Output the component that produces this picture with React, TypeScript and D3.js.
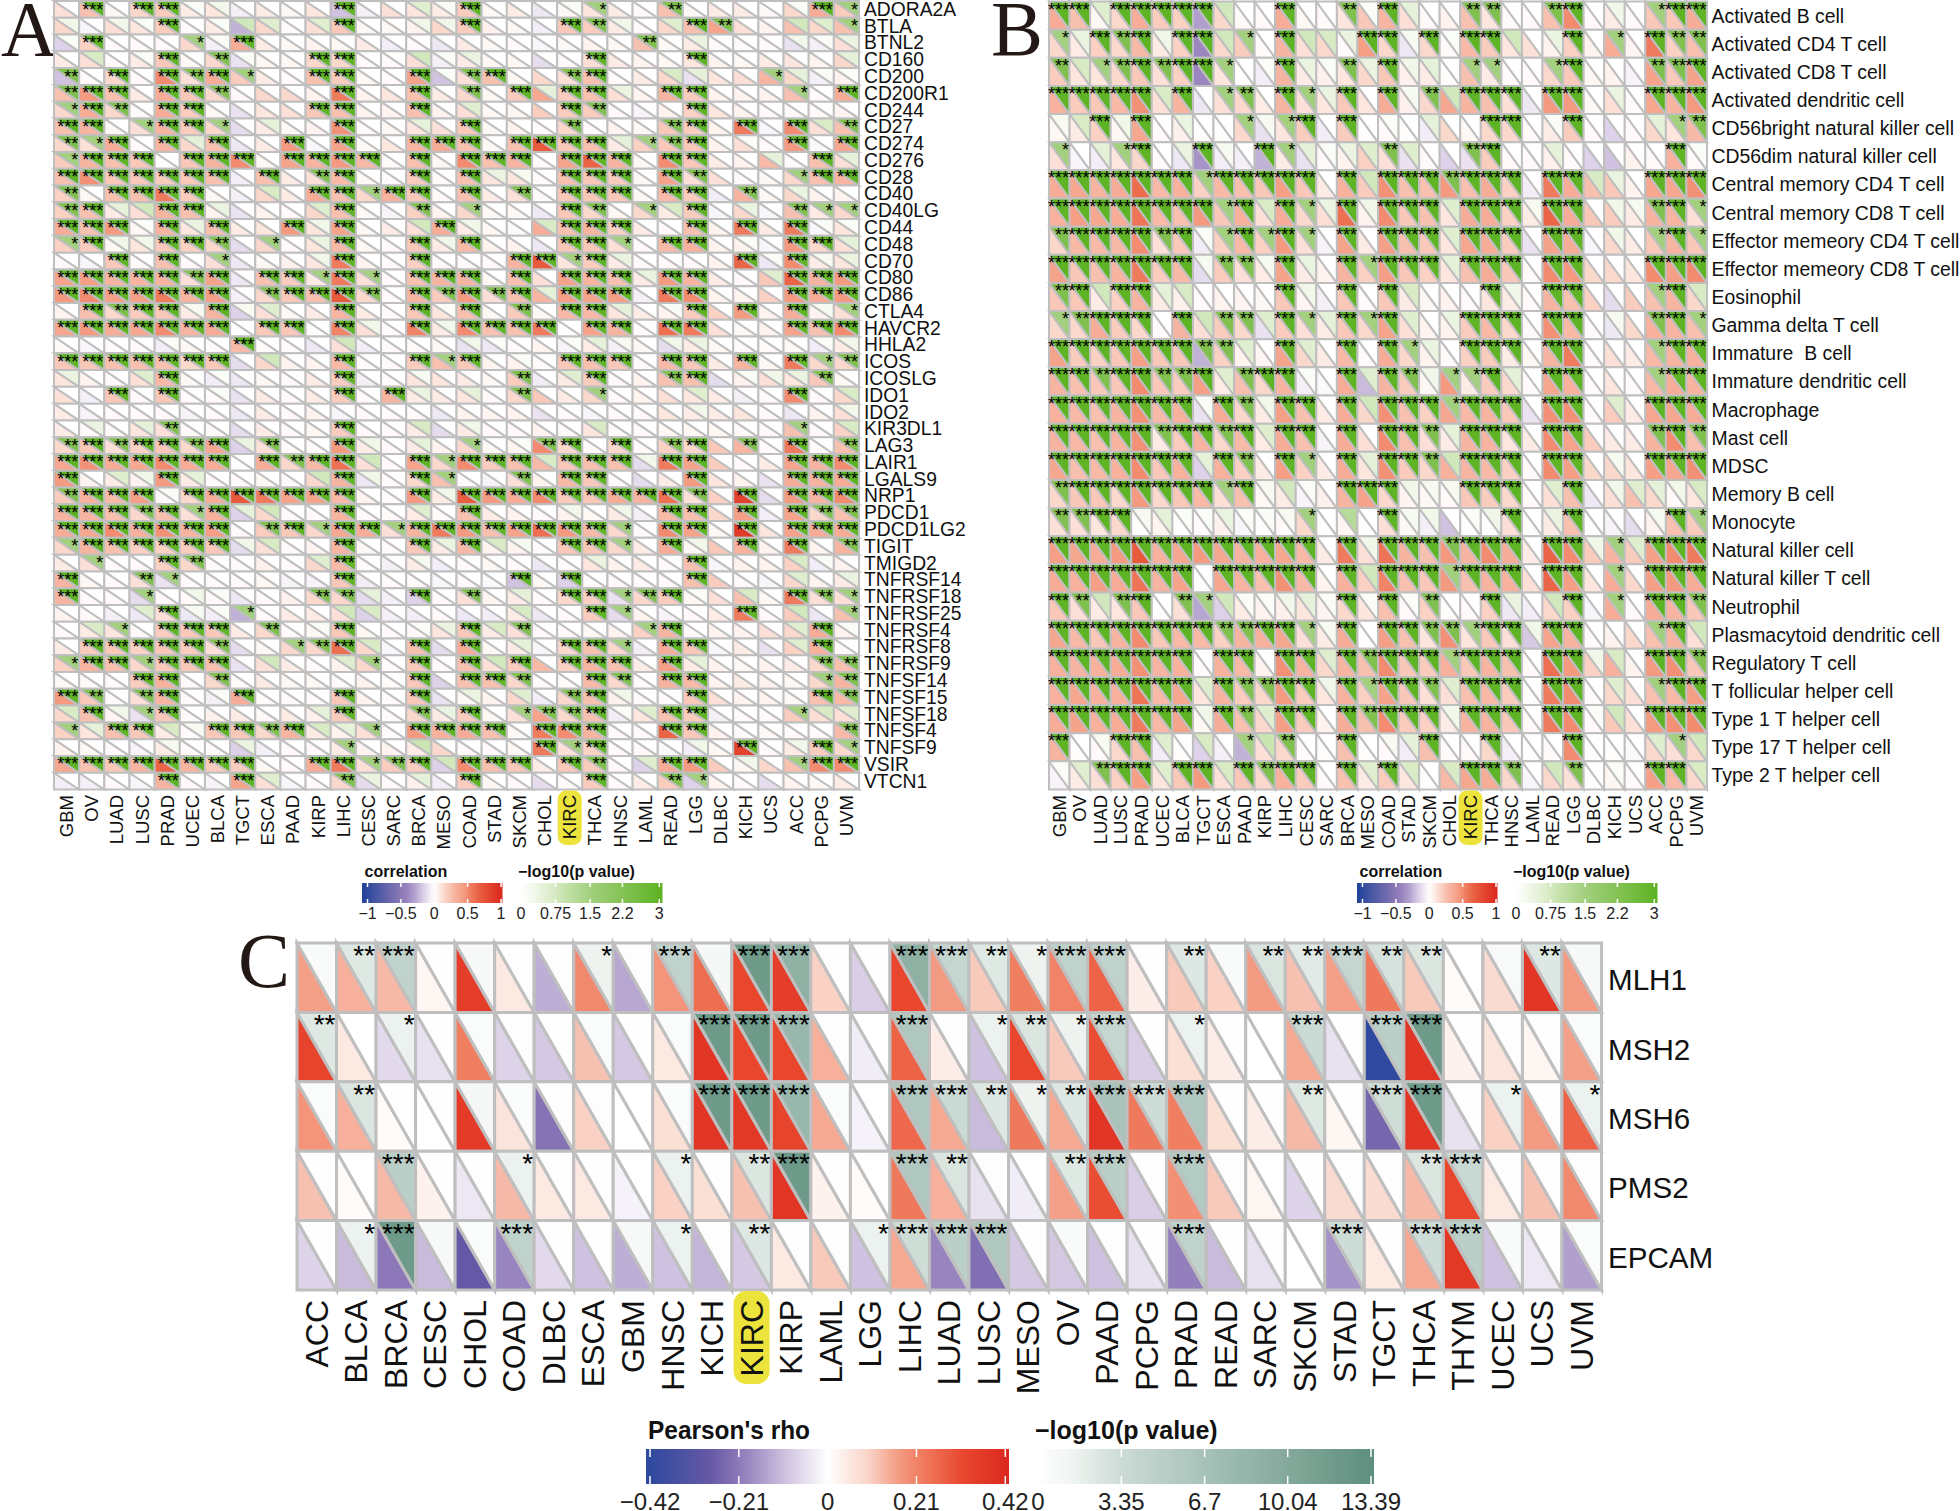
import React from "react";
import * as d3 from "d3";

const cancersAB = ["GBM","OV","LUAD","LUSC","PRAD","UCEC","BLCA","TGCT","ESCA","PAAD","KIRP","LIHC","CESC","SARC","BRCA","MESO","COAD","STAD","SKCM","CHOL","KIRC","THCA","HNSC","LAML","READ","LGG","DLBC","KICH","UCS","ACC","PCPG","UVM"];
const cancersC = ["ACC","BLCA","BRCA","CESC","CHOL","COAD","DLBC","ESCA","GBM","HNSC","KICH","KIRC","KIRP","LAML","LGG","LIHC","LUAD","LUSC","MESO","OV","PAAD","PCPG","PRAD","READ","SARC","SKCM","STAD","TGCT","THCA","THYM","UCEC","UCS","UVM"];
const genesA = ["ADORA2A","BTLA","BTNL2","CD160","CD200","CD200R1","CD244","CD27","CD274","CD276","CD28","CD40","CD40LG","CD44","CD48","CD70","CD80","CD86","CTLA4","HAVCR2","HHLA2","ICOS","ICOSLG","IDO1","IDO2","KIR3DL1","LAG3","LAIR1","LGALS9","NRP1","PDCD1","PDCD1LG2","TIGIT","TMIGD2","TNFRSF14","TNFRSF18","TNFRSF25","TNFRSF4","TNFRSF8","TNFRSF9","TNFSF14","TNFSF15","TNFSF18","TNFSF4","TNFSF9","VSIR","VTCN1"];
const cellsB = ["Activated B cell","Activated CD4 T cell","Activated CD8 T cell","Activated dendritic cell","CD56bright natural killer cell","CD56dim natural killer cell","Central memory CD4 T cell","Central memory CD8 T cell","Effector memeory CD4 T cell","Effector memeory CD8 T cell","Eosinophil","Gamma delta T cell","Immature  B cell","Immature dendritic cell","Macrophage","Mast cell","MDSC","Memory B cell","Monocyte","Natural killer cell","Natural killer T cell","Neutrophil","Plasmacytoid dendritic cell","Regulatory T cell","T follicular helper cell","Type 1 T helper cell","Type 17 T helper cell","Type 2 T helper cell"];
const genesC = ["MLH1","MSH2","MSH6","PMS2","EPCAM"];

// correlation x100, per row
const corrA = [
[12,25,3,15,20,8,10,-5,8,3,10,-20,-5,12,10,8,20,3,8,-8,3,10,8,2,25,3,8,8,2,15,35,20],
[15,-3,12,10,20,2,8,-25,15,2,12,22,3,3,5,15,20,6,3,-6,22,20,8,2,15,25,40,12,5,25,15,25],
[-15,18,2,2,2,15,-5,35,8,3,5,3,8,-6,2,-8,8,3,2,-3,3,5,3,25,3,8,2,2,2,-10,-5,12],
[8,12,2,8,22,3,15,-10,3,3,15,15,2,2,12,-5,8,3,3,-12,2,12,8,5,3,10,5,3,8,10,5,15],
[-20,2,15,2,50,12,35,20,8,2,25,20,3,2,40,-20,12,25,3,15,12,25,2,8,15,-10,10,12,30,15,-5,5],
[25,45,25,8,35,22,15,2,15,15,5,55,5,10,25,8,15,3,20,38,20,25,12,5,30,20,5,5,5,25,2,35],
[15,35,15,2,35,20,3,-10,10,12,22,25,5,5,25,5,12,3,3,20,20,20,2,-4,5,18,10,5,2,2,2,4],
[25,30,3,12,30,20,15,-12,8,3,5,48,2,3,10,12,22,3,5,2,15,2,5,3,22,20,5,55,-3,50,12,25],
[15,12,35,2,30,15,25,-8,8,45,-3,40,3,10,30,35,25,3,25,70,22,25,8,18,22,22,5,12,2,45,-2,38],
[20,30,25,22,1,22,30,50,3,40,30,45,28,2,25,3,50,25,30,2,40,65,30,3,50,22,8,5,28,2,25,12],
[25,48,22,22,20,22,25,-6,25,8,12,28,3,2,20,2,25,10,10,2,25,22,20,3,40,12,12,2,3,15,25,30],
[18,3,25,25,55,20,3,-5,15,8,35,25,15,32,22,2,25,8,12,2,22,22,22,3,28,20,-6,30,3,15,5,5],
[18,25,8,12,30,25,5,-10,5,2,15,25,3,-4,18,5,15,3,3,-8,22,15,3,15,8,20,-3,15,-3,25,8,15],
[35,25,45,3,30,10,25,8,10,45,10,40,3,8,12,35,8,3,-2,35,25,30,18,8,2,25,5,55,8,55,-3,10],
[18,20,3,10,22,18,15,-12,15,2,10,28,3,2,22,8,28,5,5,-8,22,22,12,2,28,32,5,5,-3,45,15,12],
[2,-3,22,2,25,2,12,-8,3,6,10,55,5,2,18,2,2,2,30,70,10,20,8,2,2,2,5,65,-8,50,8,10],
[40,42,30,30,30,12,40,-8,25,20,8,55,12,2,25,30,30,3,25,12,40,30,25,8,45,30,8,2,22,65,30,45],
[45,50,42,42,55,30,42,-5,15,22,25,70,15,2,30,20,45,12,25,30,42,40,42,-5,55,50,5,5,18,45,35,45],
[5,25,15,20,22,8,30,-15,12,3,8,30,8,2,22,10,25,3,20,3,28,28,10,8,5,20,18,45,5,35,5,12],
[38,45,35,38,50,30,35,1,22,22,1,52,12,2,52,8,50,25,25,55,1,40,30,2,60,55,12,3,5,40,25,50],
[2,-3,2,2,-6,3,2,28,2,2,-8,12,-6,2,2,3,-10,-8,2,5,-4,8,-5,3,-12,8,3,2,2,3,-6,8],
[22,22,25,25,25,15,22,-12,15,5,5,28,2,2,20,25,22,5,5,2,22,25,22,2,28,22,8,30,3,55,15,15],
[10,5,2,12,28,3,-6,-8,3,2,8,20,-5,2,10,10,8,3,20,-6,8,20,2,5,25,25,-12,5,12,10,22,3],
[12,-5,22,2,22,2,2,-10,8,2,8,20,2,30,8,8,10,2,15,22,8,15,2,5,12,10,8,-5,2,50,2,15],
[8,-4,2,2,2,-4,2,-8,8,2,5,-3,2,2,2,-8,5,4,5,-10,2,-3,2,2,10,8,8,10,2,-8,5,12],
[8,2,2,10,12,2,2,-12,8,2,3,20,2,2,8,-12,8,2,2,5,2,10,2,2,3,3,3,2,2,25,2,18],
[15,22,12,18,22,15,38,-15,12,2,2,45,8,2,8,5,15,3,4,50,15,2,15,2,18,15,22,30,2,55,2,25],
[38,48,35,38,50,35,35,1,35,15,28,60,12,2,40,15,50,20,25,28,22,25,25,-12,55,40,20,2,8,40,30,50],
[45,4,8,5,45,8,2,2,3,2,15,30,-8,2,15,25,2,-4,12,5,28,22,2,-12,8,45,10,5,-10,35,30,35],
[20,32,28,42,2,15,35,70,55,40,40,28,5,2,45,8,68,45,35,50,20,22,35,30,60,12,18,85,-12,45,30,50],
[30,30,25,15,25,12,32,-15,15,2,2,30,2,2,8,2,25,8,5,2,5,3,8,-5,28,25,15,42,-6,40,15,25],
[35,38,50,32,48,30,42,2,20,22,15,38,35,12,30,55,45,25,40,60,45,28,15,2,50,40,3,90,10,40,35,35],
[15,30,25,18,18,20,22,-12,12,2,5,30,3,2,22,8,28,5,5,2,22,22,15,8,35,3,22,32,5,55,5,30],
[8,12,2,2,18,15,2,2,6,2,15,28,2,-5,8,-6,2,3,2,-8,2,10,5,8,2,25,-3,5,5,18,-6,5],
[30,3,2,12,-10,2,2,2,3,-4,-4,22,-6,2,2,-3,2,-2,-20,3,-15,2,2,2,2,25,20,2,-3,15,5,8],
[30,2,2,-12,2,2,2,-8,2,6,15,15,-12,-5,-15,2,12,4,8,2,15,18,-10,15,20,3,12,25,3,55,12,12],
[5,2,-5,-8,12,-8,-6,-25,2,8,8,12,-15,-5,-6,2,-8,-6,8,-8,2,20,-12,5,-4,2,8,55,2,20,-8,25],
[2,8,10,2,20,22,22,8,15,2,3,22,3,2,2,10,22,8,12,2,2,3,5,18,30,2,5,5,12,15,35,5],
[8,20,22,18,22,20,12,-12,3,15,15,60,15,-3,25,-12,35,3,8,-3,15,25,15,-6,35,22,-3,8,-10,18,32,2],
[18,30,25,15,22,22,25,-10,12,8,2,5,15,2,22,2,25,12,20,28,18,30,25,8,42,8,5,3,5,8,15,25],
[3,2,2,20,32,2,15,2,8,3,3,2,5,2,22,-15,25,25,15,2,2,28,15,2,32,28,5,8,5,3,15,30],
[45,22,2,12,30,2,-5,35,2,2,2,22,5,2,22,-10,3,5,15,-6,15,25,6,2,2,22,12,5,5,3,25,28],
[15,25,4,-10,22,2,6,8,2,8,6,20,2,2,15,8,20,3,12,40,15,25,-6,10,25,20,-5,2,2,20,12,12],
[18,10,25,22,8,2,22,22,15,30,8,5,12,2,45,32,35,25,3,55,50,30,2,2,65,22,5,2,3,2,2,28],
[5,3,2,-4,8,2,2,-15,-5,2,2,8,5,5,8,15,2,2,3,55,12,18,2,2,-2,-6,3,85,2,8,20,15],
[38,25,22,30,65,30,20,20,3,2,35,55,12,20,20,-15,50,25,22,8,22,20,2,-15,35,45,20,3,15,25,50,50],
[-6,-5,2,-3,30,2,-4,40,12,-3,2,15,-12,2,6,-6,20,3,2,-12,2,20,2,8,20,-15,5,2,-12,5,3,8],
];
// -log10(p) x10, per row
const pvalA = [
[0,30,0,30,30,1,3,0,0,0,0,30,0,0,6,1,30,0,0,0,1,15,0,0,23,0,0,0,0,1,30,15],
[3,0,3,1,30,0,1,8,6,0,6,30,0,0,3,3,30,0,0,0,30,23,3,0,6,30,23,0,0,8,6,15],
[1,30,0,0,0,15,1,30,0,0,0,0,0,0,0,0,0,0,0,0,0,0,0,23,0,4,0,0,0,3,1,4],
[0,7,0,1,30,0,23,1,0,0,30,30,0,0,8,1,4,0,0,0,0,30,0,0,0,30,0,0,0,0,0,5],
[23,0,30,0,30,23,30,15,0,0,30,30,0,0,30,1,23,30,0,0,23,30,0,0,7,5,0,0,15,5,1,1],
[23,30,30,0,30,30,23,0,0,0,0,30,0,0,30,0,23,0,30,5,30,30,4,0,30,30,0,0,0,15,0,30],
[15,30,23,0,30,30,0,0,0,0,30,30,0,0,30,0,6,0,0,0,30,23,0,0,0,30,0,0,0,0,0,0],
[30,30,0,15,30,30,15,0,5,0,0,30,0,0,5,0,30,0,0,0,23,0,0,0,23,30,0,30,0,30,7,23],
[23,15,30,0,30,5,30,0,0,30,0,30,0,0,30,30,30,0,30,30,30,30,5,15,23,30,0,1,0,30,0,30],
[15,30,30,30,0,30,30,30,0,30,30,30,30,0,30,0,30,30,30,0,30,30,30,0,30,30,0,0,5,0,30,5],
[30,30,30,30,30,30,30,0,30,0,23,30,0,0,30,0,30,4,2,0,30,30,30,0,30,23,0,0,0,15,30,30],
[23,0,30,30,30,30,0,0,7,0,30,30,15,30,30,0,30,0,23,0,30,30,30,0,30,30,0,23,0,4,0,0],
[23,30,5,8,30,30,4,0,0,0,6,30,0,0,23,0,15,0,0,0,30,23,0,15,7,30,0,4,0,23,15,15],
[30,30,30,1,30,4,30,0,0,30,3,30,0,0,8,30,3,0,0,7,30,30,30,0,0,30,0,30,0,30,1,1],
[15,30,3,3,30,30,23,0,15,0,4,30,0,0,30,3,30,0,0,0,30,30,15,0,30,30,0,1,0,30,30,5],
[0,0,30,0,30,0,15,0,0,0,3,30,0,0,30,0,0,0,30,30,15,30,4,0,0,0,0,30,1,30,2,4],
[30,30,30,30,30,23,30,0,30,30,15,30,15,0,30,30,30,0,30,0,30,30,30,4,30,30,0,0,6,30,30,30],
[30,30,30,30,30,30,30,0,23,30,30,30,23,0,30,23,30,23,30,5,30,30,30,0,30,30,0,0,0,30,30,30],
[0,30,23,30,30,2,30,2,6,0,0,30,0,0,30,1,30,0,23,0,30,30,5,0,1,30,0,30,0,30,2,15],
[30,30,30,30,30,30,30,0,30,30,0,30,3,0,30,3,30,30,30,30,0,30,30,0,30,30,0,0,0,30,30,30],
[0,0,0,0,1,0,0,30,0,0,0,8,0,0,0,0,3,1,0,0,1,5,2,0,3,4,0,0,0,0,1,3],
[30,30,30,30,30,30,30,0,8,0,0,30,0,0,30,15,30,0,1,0,30,30,30,0,30,30,0,30,0,30,15,23],
[4,0,0,6,30,0,1,0,0,0,0,30,0,0,2,0,0,0,23,0,6,30,0,0,23,30,0,1,3,4,23,0],
[0,0,30,0,30,0,1,0,0,0,0,30,0,30,4,0,5,0,23,0,0,15,0,0,0,6,0,0,0,30,0,7],
[0,0,0,0,0,0,0,0,0,0,0,0,0,0,0,0,0,0,0,0,0,0,0,0,0,3,0,0,0,0,0,3],
[0,4,0,5,23,0,0,0,0,0,0,30,0,0,7,0,3,0,0,0,0,7,0,0,0,0,0,0,0,15,0,7],
[23,30,23,30,30,23,30,4,23,0,0,30,3,0,5,0,15,0,1,23,30,0,30,0,23,30,0,23,0,30,0,23],
[30,30,30,30,30,30,30,0,30,23,30,30,8,0,30,15,30,30,30,7,30,30,30,3,30,30,0,0,0,30,30,30],
[30,0,6,3,30,5,0,0,0,0,8,30,3,0,30,15,0,0,23,0,30,30,0,0,0,30,0,0,0,30,30,30],
[23,30,30,30,1,30,30,30,30,30,30,30,0,0,30,3,30,30,30,30,30,30,30,30,30,23,0,30,0,30,30,30],
[30,30,30,23,30,15,30,5,8,0,0,30,0,0,6,0,30,0,0,0,3,0,3,0,30,30,0,30,0,30,23,23],
[30,30,30,30,30,30,30,0,23,30,15,30,30,15,30,30,30,30,30,30,30,30,15,0,30,30,0,30,0,30,30,30],
[15,30,30,30,30,30,30,3,7,0,0,30,0,0,30,4,30,7,2,0,30,30,15,0,30,3,0,30,0,30,0,23],
[0,15,0,0,30,23,0,0,0,0,6,30,0,0,2,0,0,0,0,0,0,4,0,0,0,30,0,0,0,7,1,0],
[30,0,0,23,15,0,0,0,0,0,0,30,0,0,0,0,0,0,30,0,30,0,0,0,0,30,0,0,0,6,0,4],
[30,0,0,15,0,3,1,0,0,0,23,23,5,0,30,0,23,0,5,0,30,30,15,23,30,1,0,7,0,30,23,15],
[0,0,0,6,30,2,1,15,0,0,0,8,7,0,0,0,0,0,7,0,0,30,15,0,0,0,0,30,0,8,0,15],
[0,7,15,0,30,30,30,0,23,0,1,30,0,0,1,4,30,7,23,0,0,0,0,15,30,0,0,0,0,6,30,1],
[0,30,30,30,30,30,23,0,0,15,23,30,7,0,30,0,30,0,5,0,30,30,15,0,30,30,0,0,0,6,30,0],
[15,30,30,15,30,30,30,0,8,0,0,6,15,0,30,0,30,8,30,0,30,30,30,0,30,5,0,0,0,0,23,23],
[0,0,0,30,30,0,23,0,0,0,0,0,0,0,30,0,30,30,23,0,0,30,23,0,30,30,0,0,0,0,15,23],
[30,23,0,23,30,0,1,30,0,0,0,30,0,0,30,0,4,0,6,0,23,30,3,0,0,30,0,0,0,0,30,23],
[7,30,3,15,30,0,0,0,0,0,5,30,0,0,23,4,30,0,15,23,23,30,1,6,30,30,0,0,0,15,7,6],
[15,5,30,30,7,2,30,30,23,30,7,5,15,0,30,30,30,30,0,30,30,30,0,0,30,30,0,0,0,0,0,23],
[0,0,0,0,2,0,0,4,0,0,0,15,0,0,9,0,0,0,0,30,15,30,0,0,0,3,0,30,0,3,30,15],
[30,30,30,30,30,30,30,30,0,0,30,30,15,23,30,8,30,30,30,0,30,23,0,6,30,30,0,3,0,15,30,30],
[0,0,0,0,30,0,0,30,6,0,0,23,4,0,5,0,30,0,0,0,0,30,0,0,23,15,0,0,0,0,0,0],
];
const corrB = [
[35,25,3,15,35,20,18,-30,15,2,2,35,3,2,10,22,30,12,2,5,25,10,2,2,25,50,2,8,2,22,22,35],
[15,8,18,15,28,8,18,-40,15,20,2,30,12,15,2,42,15,-8,15,2,28,20,10,12,5,18,5,35,4,55,18,25],
[20,10,10,15,22,12,18,-40,10,1,-6,30,8,6,10,15,22,6,8,1,25,8,2,2,15,22,3,5,-4,40,22,40],
[32,20,22,28,48,12,30,-8,12,15,8,30,12,10,22,10,35,6,15,38,30,25,12,-8,45,45,3,12,2,38,30,45],
[3,8,18,3,38,2,6,1,1,15,-10,10,20,-6,20,1,2,1,-6,15,3,15,15,2,8,20,2,-15,2,15,10,28],
[12,-3,-6,10,15,2,-8,-35,-6,-5,-25,8,-10,2,5,18,12,-10,2,-15,-10,20,2,2,6,2,-15,-20,5,2,32,2],
[35,38,30,35,62,28,32,18,28,25,22,42,22,8,32,20,48,25,25,45,25,35,18,-6,55,35,25,22,5,38,38,48],
[32,42,38,35,58,28,25,45,22,32,12,35,15,12,60,5,50,22,25,10,35,35,18,8,65,35,22,20,8,30,30,12],
[15,28,28,28,50,12,22,-6,18,28,18,45,12,-4,40,8,42,25,22,10,38,35,20,-10,40,35,-3,15,8,22,30,22],
[40,22,25,30,55,20,28,-12,20,12,8,40,8,5,30,18,42,22,18,10,25,35,22,2,50,45,15,15,10,50,42,50],
[22,22,8,18,30,8,6,2,5,4,3,22,4,-5,22,2,22,8,3,5,2,10,8,2,30,25,18,-12,20,25,30,15],
[15,15,35,20,15,2,30,12,20,15,-10,20,12,8,22,15,40,12,5,5,20,28,15,2,48,28,2,-8,15,32,30,25],
[40,20,18,22,42,22,22,-25,18,5,4,40,15,8,28,2,35,15,5,2,18,20,8,3,30,55,2,12,8,28,30,32],
[30,25,22,22,50,22,20,42,8,25,15,30,-5,-2,35,-22,30,20,3,45,8,20,15,2,38,32,2,10,2,28,35,30],
[32,28,25,30,48,28,32,-10,35,15,8,42,25,8,35,15,48,25,18,38,28,30,22,-10,48,48,2,20,8,38,38,35],
[30,28,25,30,48,8,20,30,15,28,8,35,25,-4,35,12,50,25,12,8,30,30,10,8,50,40,20,8,8,30,50,25],
[38,25,28,32,50,22,32,-15,32,18,8,42,18,8,35,10,48,20,15,32,30,28,18,2,50,42,15,15,10,42,38,48],
[15,22,22,15,45,15,22,28,12,25,3,8,-4,6,30,40,15,4,3,2,22,20,15,2,12,25,-8,12,25,15,2,10],
[12,12,10,15,1,5,1,2,6,-3,1,2,15,1,4,1,12,3,-5,-20,1,1,12,1,8,25,1,-4,-12,5,25,20],
[42,38,35,45,70,32,38,45,38,30,32,38,28,8,55,12,58,30,25,45,30,50,35,8,65,50,20,30,20,42,50,55],
[35,32,42,35,58,30,40,1,38,30,25,48,28,5,32,18,52,25,22,45,25,30,32,12,65,42,10,35,15,42,45,35],
[22,12,8,10,22,1,12,-28,-15,8,5,6,10,4,15,10,25,2,18,1,2,18,-8,-6,15,18,-3,35,2,35,30,22],
[38,28,22,30,50,22,28,28,18,30,32,38,12,8,35,1,42,25,10,48,10,22,12,-18,40,30,2,5,15,25,30,12],
[32,30,32,35,48,30,32,2,32,28,5,48,30,15,30,25,50,22,20,32,22,30,25,2,60,45,18,32,5,45,48,22],
[32,38,32,32,58,28,38,10,30,20,15,45,20,10,32,18,40,22,12,12,25,28,20,1,55,50,2,15,12,25,28,42],
[35,40,32,35,55,28,40,3,35,25,15,42,20,5,35,25,50,20,18,8,30,30,22,2,55,50,2,22,12,45,48,50],
[30,1,2,15,25,-6,1,-15,-5,-25,12,15,2,1,25,1,2,-6,25,2,2,15,-5,1,2,50,1,1,-2,15,12,15],
[-4,8,12,18,42,10,22,45,12,22,15,32,20,2,25,8,20,10,1,28,38,35,15,-3,15,12,1,3,2,42,28,15],
];
const pvalB = [
[30,30,6,30,30,30,30,30,8,0,0,30,0,0,23,1,30,5,0,0,23,23,0,0,23,30,0,3,0,15,30,30],
[15,4,30,23,30,3,30,30,8,15,0,30,8,7,4,30,30,2,30,1,30,30,8,0,4,30,0,15,0,30,23,23],
[23,7,15,23,30,23,30,30,15,0,1,30,4,1,23,4,30,3,5,0,15,15,0,0,15,30,0,0,0,23,23,30],
[30,30,30,30,30,7,30,0,15,23,0,30,15,4,30,0,30,2,23,8,30,30,30,0,30,30,0,4,0,30,30,30],
[2,7,30,3,30,0,4,0,0,15,2,15,30,0,30,0,1,0,5,0,0,30,30,0,1,30,0,0,0,5,15,23],
[15,0,5,15,30,0,4,30,2,0,30,15,5,1,4,6,23,6,0,0,23,30,0,0,5,0,0,0,0,0,30,1],
[30,30,30,30,30,30,30,15,30,30,30,30,30,0,30,8,30,30,30,23,30,30,30,0,30,30,7,4,0,30,30,30],
[30,30,30,30,30,30,30,30,15,30,7,30,15,4,30,3,30,30,30,6,30,30,30,2,30,30,0,3,2,23,30,15],
[23,30,30,30,30,23,30,1,15,30,15,30,15,0,30,0,30,30,30,6,30,30,30,0,30,30,0,3,0,15,30,15],
[30,30,30,30,30,30,30,2,23,23,2,30,4,0,30,15,30,30,30,5,30,30,30,0,30,30,0,0,0,30,30,30],
[23,30,8,30,30,5,7,0,0,0,0,30,3,0,30,0,30,7,0,0,0,30,3,0,30,30,0,0,0,15,30,7],
[15,23,30,30,30,0,30,8,23,23,6,30,15,5,30,15,30,6,0,4,30,30,30,0,30,30,0,2,0,23,30,15],
[30,30,30,30,30,30,30,23,23,6,0,30,6,0,30,0,30,15,4,0,30,30,30,0,30,30,0,0,0,15,30,30],
[30,30,23,30,30,23,23,30,6,23,30,30,1,0,30,6,30,23,3,15,15,30,5,0,30,30,0,0,0,15,30,30],
[30,30,30,30,30,30,30,1,30,23,3,30,30,0,30,8,30,30,30,15,30,30,30,0,30,30,0,6,0,30,30,30],
[30,30,30,30,30,23,30,30,23,30,6,30,30,0,30,0,30,30,23,5,30,30,30,0,30,30,0,0,0,23,30,23],
[30,30,30,30,30,30,30,5,30,23,0,30,15,0,30,5,30,30,23,8,30,30,30,0,30,30,0,2,0,30,30,30],
[23,30,30,30,30,30,30,30,15,30,2,8,1,0,30,30,30,3,2,2,30,30,30,0,6,30,0,3,6,5,3,7],
[23,23,30,30,2,5,1,1,4,1,1,2,15,0,12,0,30,2,3,0,1,3,30,0,4,30,0,0,0,2,30,15],
[30,30,30,30,30,30,30,30,30,30,30,30,30,0,30,3,30,30,30,23,30,30,30,0,30,30,3,15,6,30,30,30],
[30,30,30,30,30,30,30,0,30,30,30,30,30,0,30,8,30,30,30,15,30,30,30,0,30,30,0,15,0,30,30,30],
[30,23,8,23,30,0,23,15,8,1,1,3,5,1,30,1,30,1,23,0,0,30,4,0,8,30,0,15,0,30,30,23],
[30,30,30,30,30,30,30,30,23,23,30,30,15,2,30,0,30,30,23,23,15,30,30,3,30,30,0,0,0,15,30,8],
[30,30,30,30,30,30,30,0,30,30,0,30,30,6,30,23,30,30,30,15,30,30,30,0,30,30,3,7,0,30,30,23],
[30,30,30,30,30,30,30,6,30,23,23,30,30,3,30,15,30,30,23,6,30,30,30,0,30,30,0,6,0,15,30,30],
[30,30,30,30,30,30,30,3,30,23,6,30,30,0,30,23,30,30,30,3,30,30,30,0,30,30,1,8,0,30,30,30],
[30,0,2,30,30,6,0,7,0,15,9,23,0,0,30,0,2,5,30,0,0,30,0,0,0,30,0,0,0,6,15,8],
[1,6,23,30,30,6,30,30,7,30,23,30,30,0,30,6,30,7,0,7,30,30,23,0,8,23,0,1,0,30,30,7],
];
const corrC = [
[16,14,13,2,35,5,-13,20,-14,18,25,32,35,10,-8,32,17,11,22,21,27,4,11,10,17,12,16,23,11,1,8,38,17],
[33,5,-6,-5,22,-7,-9,12,-9,5,38,32,32,14,-3,27,4,-10,32,11,31,-8,7,4,0,15,-5,-42,38,3,6,2,16],
[18,14,1,0,36,6,-22,10,0,7,38,37,33,15,-2,26,15,-11,23,15,38,23,22,7,4,13,2,-25,38,-5,10,17,27],
[12,1,13,3,-4,13,5,5,-2,10,7,12,38,3,1,23,14,-5,-3,16,31,-8,19,11,2,-7,8,8,13,32,5,12,20],
[-7,-11,-21,-11,-28,-19,-6,-10,-13,-10,-12,-9,5,11,-10,15,-19,-23,-9,-9,-10,-5,-20,-11,-5,0,-17,5,15,37,-10,-4,-15],
];
const pvalC = [
[5,23,45,1,8,3,2,15,3,45,9,120,90,2,1,90,40,23,15,45,45,1,24,5,26,22,40,28,25,0,6,24,7],
[23,0,16,1,4,3,1,4,1,4,120,120,80,3,0,60,1,16,25,15,40,1,16,1,0,35,1,50,120,1,3,1,4],
[4,25,1,1,10,4,3,3,0,4,120,120,80,4,0,60,35,24,15,24,65,33,60,1,1,23,1,32,120,1,16,1,16],
[1,0,50,1,1,16,1,1,0,16,1,25,120,1,0,60,26,3,0,23,50,1,55,2,0,1,3,1,25,37,3,1,3],
[1,16,120,7,4,45,1,3,7,16,2,24,2,2,16,32,50,60,1,5,2,1,45,1,1,0,33,1,33,50,5,1,4],
];
const ticksCorrAB = [-100, -50, 0, 50, 100];
const ticksPAB = [0, 7.5, 15, 22, 30];
const ticksCorrC = [-42, -21, 0, 21, 42];
const ticksPC = [0, 33.5, 67, 100.4, 133.9];

const FONT = "'Liberation Sans', Arial, sans-serif";
const GRID = "#bfbfbf";

const corrScaleAB = d3.scaleLinear<string>()
  .domain([-100, -50, -40, -30, -20, -12, -5, 0, 5, 15, 30, 45, 55, 70, 100])
  .range(["#2f4a9e","#8b78b5","#9c86c0","#b09fce","#d0c2e0","#e5dcee","#f5f0f8","#ffffff","#fef3ef","#fbd8cc","#f7b5a1","#f49a80","#ef7b5e","#e85a3c","#dc2a1f"]);
const pScaleAB = d3.scaleLinear<string>()
  .domain([0, 3, 6, 10, 15, 23, 30])
  .range(["#ffffff","#f1f7e9","#dfeecf","#c3e0a8","#a2d07e","#80c04f","#5fb425"])
  .clamp(true);
const corrScaleC = d3.scaleLinear<string>()
  .domain([-42, -28, -21, -10, 0, 10, 16, 22, 32, 42])
  .range(["#2f4a9e","#6558a6","#8c78b8","#cfc2e0","#ffffff","#f9d2c5","#f49f88","#f07e61","#e8472e","#dc2a1f"]);
const pScaleC = d3.scaleLinear<string>()
  .domain([0, 15, 33.5, 67, 100.4, 133.9])
  .range(["#ffffff","#eef3f0","#ccdbd5","#a7c2b9","#84a99b","#5f8f7e"]);

function starsOf(p: number) {
  return p >= 30 ? "***" : p >= 20 ? "**" : p >= 13 ? "*" : "";
}

type HeatProps = {
  rows: string[]; cols: string[]; corr: number[][]; pval: number[][];
  x0: number; x1: number; y0: number; y1: number;
  corrScale: (v: number) => string; pScale: (v: number) => string;
  stroke: number; starSize: number; starDy: number; starInset: number;
  rowX: number; rowDy: number; rowSize: number; colSize: number; colTop: number; hlW: number; hlBottom: number;
};

function Heat(h: HeatProps) {
  const x = d3.scaleBand<string>().domain(h.cols).range([h.x0, h.x1]);
  const y = d3.scaleBand<string>().domain(h.rows).range([h.y0, h.y1]);
  const w = x.bandwidth();
  const ht = y.bandwidth();
  const tri = d3.line<[number, number]>().curve(d3.curveLinearClosed);
  const hlX = (x("KIRC") as number) + w / 2;
  return (
    <g>
      {h.rows.map((r, i) => h.cols.map((c, j) => {
        const cx = x(c) as number;
        const cy = y(r) as number;
        const lower = tri([[cx, cy], [cx, cy + ht], [cx + w, cy + ht]]) as string;
        const upper = tri([[cx, cy], [cx + w, cy], [cx + w, cy + ht]]) as string;
        return (
          <g key={r + c}>
            <path d={lower} fill={h.corrScale(h.corr[i][j])} stroke={GRID} strokeWidth={h.stroke} />
            <path d={upper} fill={h.pScale(h.pval[i][j])} stroke={GRID} strokeWidth={h.stroke} />
          </g>
        );
      }))}
      {h.rows.map((r, i) => h.cols.map((c, j) => {
        const s = starsOf(h.pval[i][j]);
        if (!s) return null;
        return (
          <text key={r + c} x={(x(c) as number) + w - h.starInset} y={(y(r) as number) + h.starDy}
            textAnchor="end" fontSize={h.starSize} fontFamily={FONT} fill="#000">{s}</text>
        );
      }))}
      {h.rows.map((r) => (
        <text key={r} x={h.rowX} y={(y(r) as number) + ht / 2 + h.rowDy} dominantBaseline="central"
          fontSize={h.rowSize} fontFamily={FONT} fill="#111" xmlSpace="preserve">{r}</text>
      ))}
      <rect x={hlX - h.hlW / 2} y={h.y1 + 1} width={h.hlW} height={h.hlBottom - h.y1 - 1} rx={h.hlW * 0.35} fill="#ece43c" />
      {h.cols.map((c) => {
        const cx = (x(c) as number) + w / 2;
        return (
          <text key={c} transform={`translate(${cx},${h.colTop}) rotate(-90)`} textAnchor="end"
            dominantBaseline="central" fontSize={h.colSize} fontFamily={FONT} fill="#111">{c}</text>
        );
      })}
    </g>
  );
}

type BarProps = {
  id: string; x0: number; x1: number; y0: number; y1: number;
  vLeft: number; vRight: number; xLeft: number; xRight: number; scale: (v: number) => string;
  ticks: number[]; labels: string[]; tickLen: number; labelY: number; labelSize: number;
  title: string; titleX: number; titleY: number; titleSize: number; titleW?: number;
};

function Bar(b: BarProps) {
  const pos = d3.scaleLinear().domain([b.vLeft, b.vRight]).range([b.xLeft, b.xRight]);
  const stops = d3.range(0, 41).map((k) => k / 40);
  return (
    <g>
      <defs>
        <linearGradient id={b.id}>
          {stops.map((t) => (
            <stop key={t} offset={t}
              stopColor={b.scale(pos.invert(b.x0 + t * (b.x1 - b.x0)))} />
          ))}
        </linearGradient>
      </defs>
      <rect x={b.x0} y={b.y0} width={b.x1 - b.x0} height={b.y1 - b.y0} fill={`url(#${b.id})`} />
      {b.ticks.map((t) => (
        <g key={t} stroke="#fff" strokeWidth={1.5}>
          <line x1={pos(t)} x2={pos(t)} y1={b.y0} y2={b.y0 + b.tickLen} />
          <line x1={pos(t)} x2={pos(t)} y1={b.y1 - b.tickLen} y2={b.y1} />
        </g>
      ))}
      {b.ticks.map((t, i) => (
        <text key={t} x={pos(t)} y={b.labelY} textAnchor="middle" dominantBaseline="central"
          fontSize={b.labelSize} fontFamily={FONT} fill="#222">{b.labels[i]}</text>
      ))}
      <text x={b.titleX} y={b.titleY} fontSize={b.titleSize} fontWeight="bold" fontFamily={FONT} fill="#111"
        {...(b.titleW ? { textLength: b.titleW, lengthAdjust: "spacingAndGlyphs" } : {})}>{b.title}</text>
    </g>
  );
}

function Letter({ t, x, y }: { t: string; x: number; y: number }) {
  return <text x={x} y={y} fontSize={78} fontFamily="'Liberation Serif', serif" fill="#231815">{t}</text>;
}

function SmallLegends({ dx }: { dx: number }) {
  return (
    <g>
      <Bar id={`corr${dx}`} x0={362 + dx} x1={502.5 + dx} y0={883} y1={903} vLeft={-100} vRight={100} xLeft={367.5 + dx} xRight={501 + dx}
        scale={corrScaleAB as any} ticks={ticksCorrAB} labels={["\u22121", "\u22120.5", "0", "0.5", "1"]} tickLen={4} labelY={913} labelSize={16}
        title="correlation" titleX={364.5 + dx} titleY={877} titleSize={16} />
      <Bar id={`pv${dx}`} x0={521 + dx} x1={662.5 + dx} y0={883} y1={903} vLeft={0} vRight={30} xLeft={521 + dx} xRight={659.3 + dx}
        scale={pScaleAB as any} ticks={ticksPAB} labels={["0", "0.75", "1.5", "2.2", "3"]} tickLen={4} labelY={913} labelSize={16}
        title={"\u2212log10(p value)"} titleX={518 + dx} titleY={877} titleSize={16} />
    </g>
  );
}

export default function App() {
  return (
    <svg width={1960} height={1511} viewBox="0 0 1960 1511" style={{ position: "absolute", left: 0, top: 0, background: "#fff" }}>
      <Letter t="A" x={1} y={55} />
      <Letter t="B" x={991} y={55} />
      <Letter t="C" x={238} y={987} />
      <Heat rows={genesA} cols={cancersAB} corr={corrA} pval={pvalA} x0={54} x1={859} y0={1} y1={789.5}
        corrScale={corrScaleAB as any} pScale={pScaleAB as any} stroke={2} starSize={18} starDy={14.5} starInset={1}
        rowX={864} rowDy={0} rowSize={19.3} colSize={18.5} colTop={795} hlW={24} hlBottom={845} />
      <Heat rows={cellsB} cols={cancersAB} corr={corrB} pval={pvalB} x0={1049} x1={1707} y0={1.5} y1={789.5}
        corrScale={corrScaleAB as any} pScale={pScaleAB as any} stroke={2} starSize={18} starDy={14} starInset={0.5}
        rowX={1711.5} rowDy={0} rowSize={19.4} colSize={18.5} colTop={795} hlW={24} hlBottom={845} />
      <SmallLegends dx={0} />
      <SmallLegends dx={995} />
      <Heat rows={genesC} cols={cancersC} corr={corrC} pval={pvalC} x0={297} x1={1601.5} y0={943} y1={1290}
        corrScale={corrScaleC as any} pScale={pScaleC as any} stroke={3} starSize={28} starDy={22} starInset={1}
        rowX={1608} rowDy={2} rowSize={29.6} colSize={32} colTop={1300} hlW={36} hlBottom={1384} />
      <Bar id="corrC" x0={646} x1={1009} y0={1449} y1={1484} vLeft={-42} vRight={42} xLeft={650} xRight={1005.3}
        scale={corrScaleC as any} ticks={ticksCorrC} labels={["\u22120.42", "\u22120.21", "0", "0.21", "0.42"]} tickLen={8} labelY={1501} labelSize={24}
        title="Pearson's rho" titleX={648} titleY={1439} titleSize={26} titleW={162} />
      <Bar id="pvC" x0={1040} x1={1374} y0={1449} y1={1484} vLeft={0} vRight={133.9} xLeft={1038} xRight={1371}
        scale={pScaleC as any} ticks={ticksPC} labels={["0", "3.35", "6.7", "10.04", "13.39"]} tickLen={8} labelY={1501} labelSize={24}
        title={"\u2212log10(p value)"} titleX={1035} titleY={1439} titleSize={25} />
    </svg>
  );
}
